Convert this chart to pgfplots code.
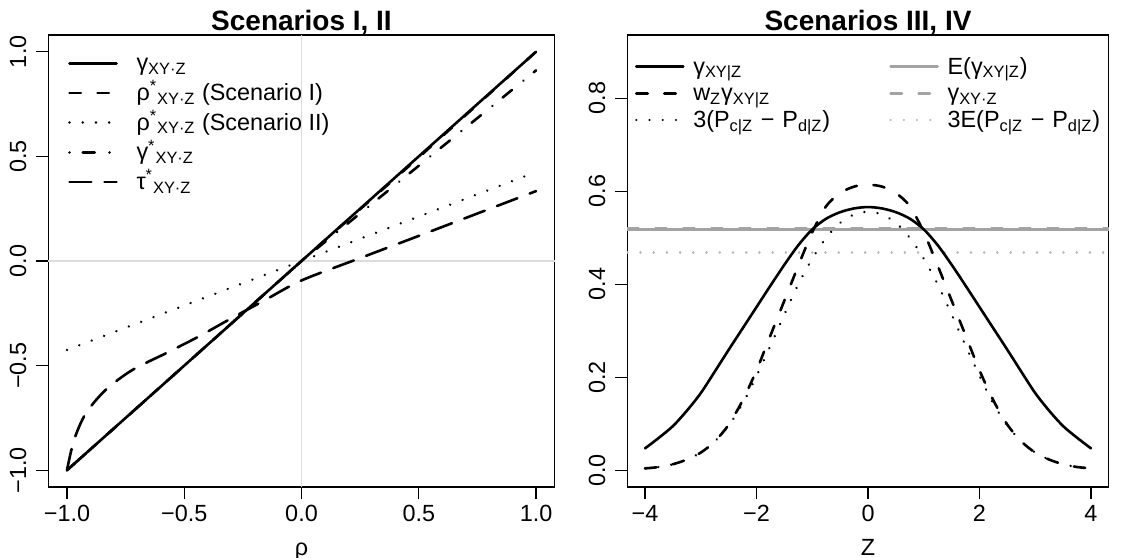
\documentclass[border=0pt]{standalone}
\usepackage{fontspec}
\setmainfont{Liberation Sans}
\usepackage{pgfplots}
\pgfplotsset{compat=1.18}

\definecolor{zerogray}{HTML}{DCDCDC}
\definecolor{midgray}{HTML}{A3A3A3}
\definecolor{ltgray}{HTML}{B4B4B4}
\newcommand{\fs}{\fontsize{11.7}{14}\selectfont}

\tikzset{
  rl/.style={line width=1.3pt, line cap=round, line join=round},
  solidl/.style={rl, black},
  dashedl/.style={rl, black, dash pattern=on 5.7pt off 8.3pt},
  dottedl/.style={rl, black, dash pattern=on 0.01pt off 6.6pt},
  dashdotl/.style={rl, black, dash pattern=on 0.01pt off 6.6pt on 6pt off 7.4pt},
  longdashl/.style={rl, black, dash pattern=on 10.9pt off 6.6pt},
}

\pgfplotsset{
  rbase/.style={
    scale only axis, anchor=south west,
    axis line style={black, line width=0.6pt},
    tick style={black, line width=0.6pt},
    tick align=outside, major tick length=6pt, tick pos=left,
    tick label style={font=\fs},
    xticklabel style={anchor=base, yshift=-11.3pt},
    yticklabel style={rotate=90, anchor=base, yshift=5pt},
    label style={font=\fs},
    xlabel style={at={(axis description cs:0.5,0)}, anchor=base, yshift=-34pt},
    title style={font=\bfseries\fontsize{14}{16}\selectfont, at={(axis description cs:0.5,1)}, anchor=base, yshift=-4pt},
    legend cell align=left,
    legend style={draw=none, fill=none, inner sep=0pt, outer sep=0pt,
      column sep=0pt, row sep=0pt, font=\fs, anchor=north west, cells={anchor=west}},
  }
}

\begin{document}
\begin{tikzpicture}
\useasboundingbox (0,0) rectangle (561pt,278.5pt);

% left panel
\begin{axis}[rbase,
  at={(24.1pt,35pt)}, width=253.3pt, height=226pt,
  xmin=-1.08, xmax=1.08, ymin=-1.08, ymax=1.08,
  xtick={-1,-0.5,0,0.5,1}, xticklabels={−1.0,−0.5,0.0,0.5,1.0},
  ytick={-1,-0.5,0,0.5,1}, yticklabels={−1.0,−0.5,0.0,0.5,1.0},
  xlabel={ρ}, title={Scenarios I, II},
  legend image code/.code={\draw[#1] (0pt,0pt) -- (23.5pt,0pt); \path[draw=none] (0pt,0pt) -- (33.5pt,0pt);},
  legend style={at={(axis description cs:0,1)}, xshift=10pt, yshift=-6.7pt,
    nodes={inner sep=0pt, text height=11.2pt, text depth=3.65pt}},
]
\addplot[zerogray, line width=0.6pt, forget plot] coordinates {(-1.08,0) (1.08,0)};
\addplot[zerogray, line width=0.6pt, forget plot] coordinates {(0,-1.08) (0,1.08)};

\addplot[solidl] coordinates {(-1,-1) (-0.5,-0.5) (0,0) (0.5,0.5) (1,1)};
\addlegendentry{γ\textsubscript{XY·Z}}
\addplot[dashedl] coordinates {(-1,-1) (-0.5,-0.5) (0,0) (0.5,0.495) (1,1)};
\addlegendentry{ρ\textsuperscript{*}\textsubscript{XY·Z} (Scenario I)}
\addplot[dottedl] coordinates {(-1,-0.425) (0,0) (1,0.425)};
\addlegendentry{ρ\textsuperscript{*}\textsubscript{XY·Z} (Scenario II)}
\addplot[dashdotl] coordinates {(-1,-1) (-0.5,-0.5) (0,0) (0.5,0.455) (1,0.911)};
\addlegendentry{γ\textsuperscript{*}\textsubscript{XY·Z}}
\addplot[longdashl, smooth] coordinates {
  (-1,-1) (-0.97,-0.856) (-0.92,-0.729) (-0.836,-0.617) (-0.723,-0.522)
  (-0.58,-0.442) (-0.44,-0.362) (-0.312,-0.282) (-0.156,-0.187) (0,-0.093)
  (0.25,0.014) (0.5,0.12) (0.75,0.227) (1,0.334)};
\addlegendentry{τ\textsuperscript{*}\textsubscript{XY·Z}}
\end{axis}

% right panel
\begin{axis}[rbase,
  at={(313.6pt,35pt)}, width=240.8pt, height=226pt,
  xmin=-4.32, xmax=4.32, ymin=-0.036, ymax=0.936,
  xtick={-4,-2,0,2,4}, xticklabels={−4,−2,0,2,4},
  ytick={0,0.2,0.4,0.6,0.8}, yticklabels={0.0,0.2,0.4,0.6,0.8},
  xlabel={Z}, title={Scenarios III, IV},
  legend columns=2,
  legend image code/.code={\draw[#1] (0pt,0pt) -- (23.5pt,0pt); \path[draw=none] (0pt,0pt) -- (28.5pt,0pt);},
  legend style={at={(axis description cs:0,1)}, xshift=3.9pt, yshift=-9.1pt,
    nodes={inner sep=0pt, text height=10.5pt, text depth=2.85pt, text width=98pt}},
]
\addlegendimage{solidl}
\addlegendentry{γ\textsubscript{XY|Z}}
\addlegendimage{solidl, midgray}
\addlegendentry{E(γ\textsubscript{XY|Z})}
\addlegendimage{dashedl}
\addlegendentry{w\textsubscript{Z}γ\textsubscript{XY|Z}}
\addlegendimage{dashedl, midgray}
\addlegendentry{γ\textsubscript{XY·Z}}
\addlegendimage{dottedl}
\addlegendentry{3(P\textsubscript{c|Z} − P\textsubscript{d|Z})}
\addlegendimage{dottedl, ltgray}
\addlegendentry{3E(P\textsubscript{c|Z} − P\textsubscript{d|Z})}

\addplot[solidl, midgray, forget plot] coordinates {(-4.32,0.518) (4.32,0.518)};
\addplot[dashedl, midgray, forget plot] coordinates {(-4.32,0.520) (4.32,0.520)};
\addplot[dottedl, ltgray, forget plot] coordinates {(-4.32,0.468) (4.32,0.468)};

\addplot[solidl, smooth, forget plot] coordinates {
  (-4,0.047) (-3.75,0.070) (-3.5,0.095) (-3.25,0.128) (-3,0.166) (-2.75,0.212)
  (-2.5,0.259) (-2.25,0.305) (-2,0.351) (-1.75,0.397) (-1.5,0.442) (-1.25,0.484)
  (-1,0.518) (-0.75,0.541) (-0.5,0.555) (-0.25,0.563) (0,0.566)
  (0.25,0.563) (0.5,0.555) (0.75,0.541) (1,0.518) (1.25,0.484) (1.5,0.442)
  (1.75,0.397) (2,0.351) (2.25,0.305) (2.5,0.259) (2.75,0.212) (3,0.166)
  (3.25,0.128) (3.5,0.095) (3.75,0.070) (4,0.047)};
\addplot[dashedl, smooth, forget plot] coordinates {
  (-4,0.004) (-3.75,0.007) (-3.5,0.013) (-3.25,0.023) (-3,0.038) (-2.75,0.062)
  (-2.5,0.098) (-2.25,0.150) (-2,0.215) (-1.75,0.290) (-1.5,0.365) (-1.25,0.440)
  (-1,0.512) (-0.75,0.568) (-0.5,0.596) (-0.25,0.610) (0,0.614)
  (0.25,0.610) (0.5,0.596) (0.75,0.568) (1,0.512) (1.25,0.440) (1.5,0.365)
  (1.75,0.290) (2,0.215) (2.25,0.150) (2.5,0.098) (2.75,0.062) (3,0.038)
  (3.25,0.023) (3.5,0.013) (3.75,0.007) (4,0.004)};
\addplot[dottedl, smooth, forget plot] coordinates {
  (-4,0.004) (-3.75,0.007) (-3.5,0.013) (-3.25,0.023) (-3,0.038) (-2.75,0.062)
  (-2.5,0.096) (-2.25,0.143) (-2,0.203) (-1.75,0.268) (-1.5,0.335) (-1.25,0.400)
  (-1,0.455) (-0.75,0.500) (-0.5,0.532) (-0.25,0.550) (0,0.556)
  (0.25,0.550) (0.5,0.532) (0.75,0.500) (1,0.455) (1.25,0.400) (1.5,0.335)
  (1.75,0.268) (2,0.203) (2.25,0.143) (2.5,0.096) (2.75,0.062) (3,0.038)
  (3.25,0.023) (3.5,0.013) (3.75,0.007) (4,0.004)};
\end{axis}
\end{tikzpicture}
\end{document}
